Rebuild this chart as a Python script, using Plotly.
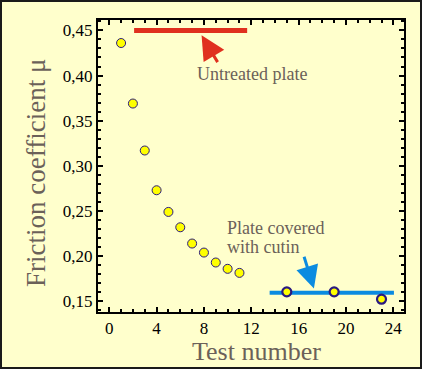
import plotly.graph_objects as go

# ---- data ----
tests_untreated = [1, 2, 3, 4, 5, 6, 7, 8, 9, 10, 11]
mu_untreated = [0.436, 0.369, 0.317, 0.273, 0.249, 0.232, 0.214, 0.204, 0.193, 0.186, 0.1815]
tests_cutin = [15, 19, 23]
mu_cutin = [0.1605, 0.1605, 0.1524]
red_line_x = [2.1, 11.65]
red_line_y = [0.45, 0.45]
blue_line_x = [13.55, 24.05]
blue_line_y = [0.1594, 0.1594]
x_tickvals = [0, 4, 8, 12, 16, 20, 24]
y_tickvals = [0.15, 0.20, 0.25, 0.30, 0.35, 0.40, 0.45]

BG = "#ffffcc"
TXT = "#6b6159"
FONT = "Liberation Serif"

W, H = 422, 369
ML, MR, MT, MB = 98, 18, 20, 57
PW, PH = W - ML - MR, H - MT - MB

fig = go.Figure()
fig.add_trace(go.Scatter(x=red_line_x, y=red_line_y, mode="lines",
                         line=dict(color="#e0301e", width=5), hoverinfo="skip"))
fig.add_trace(go.Scatter(x=blue_line_x, y=blue_line_y, mode="lines",
                         line=dict(color="#0b8be0", width=4), hoverinfo="skip"))
fig.add_trace(go.Scatter(x=tests_untreated, y=mu_untreated, mode="markers",
                         marker=dict(size=9, color="#ffff00",
                                     line=dict(color="#2a1a80", width=1))))
fig.add_trace(go.Scatter(x=tests_cutin, y=mu_cutin, mode="markers",
                         marker=dict(size=9, color="#ffff00",
                                     line=dict(color="#2a1a80", width=2.2))))

axis_common = dict(
    showline=True, linecolor="black", linewidth=2, mirror="ticks",
    ticks="inside", ticklen=5, tickwidth=1.5, tickcolor="black",
    showgrid=False, zeroline=False,
    tickfont=dict(family=FONT, size=17, color="black"),
)
fig.update_xaxes(range=[-0.95, 24.9], tickvals=x_tickvals,
                 minor=dict(dtick=1, tick0=0, ticks="inside", ticklen=3,
                            tickwidth=1.5, tickcolor="black", showgrid=False),
                 **axis_common)
fig.update_yaxes(range=[0.1382, 0.4615], tickvals=y_tickvals, tickformat=".2f",
                 minor=dict(dtick=0.01, tick0=0, ticks="inside", ticklen=3,
                            tickwidth=1.5, tickcolor="black", showgrid=False),
                 **axis_common)

annotations = [
    dict(x=7.8, y=0.4445, ax=9.23, ay=0.4132, xref="x", yref="y", axref="x", ayref="y",
         text="", showarrow=True, arrowhead=2, arrowsize=1.6, arrowwidth=3,
         arrowcolor="#e0301e", standoff=0),
    dict(x=17.29, y=0.1643, ax=16.42, ay=0.2011, xref="x", yref="y", axref="x", ayref="y",
         text="", showarrow=True, arrowhead=2, arrowsize=1.5, arrowwidth=3,
         arrowcolor="#0b8be0", standoff=0),
    dict(x=12.1, y=0.4013, xref="x", yref="y", text="Untreated plate", showarrow=False,
         font=dict(family=FONT, size=18, color=TXT), xanchor="center", yanchor="middle"),
    dict(x=9.82, y=0.231, xref="x", yref="y", text="Plate covered", showarrow=False,
         font=dict(family=FONT, size=18, color=TXT), xanchor="left", yanchor="middle"),
    dict(x=9.82, y=0.2103, xref="x", yref="y", text="with cutin", showarrow=False,
         font=dict(family=FONT, size=18, color=TXT), xanchor="left", yanchor="middle"),
    dict(x=(256.5 - ML) / PW, y=(H - MB - 351) / PH, xref="paper", yref="paper",
         text="Test number", showarrow=False,
         font=dict(family=FONT, size=26, color=TXT), xanchor="center", yanchor="middle"),
    dict(x=(36 - ML) / PW, y=(H - MB - 173) / PH, xref="paper", yref="paper",
         text="Friction coefficient μ", showarrow=False, textangle=-90,
         font=dict(family=FONT, size=27, color=TXT), xanchor="center", yanchor="middle"),
]

shapes = [dict(type="rect", xref="paper", yref="paper",
               x0=(1 - ML) / PW, x1=(W - 1 - ML) / PW,
               y0=(H - MB - (H - 1)) / PH, y1=(H - MB - 1) / PH,
               line=dict(color="#1a1a1a", width=2), fillcolor="rgba(0,0,0,0)", layer="above")]

fig.update_layout(
    width=W, height=H, margin=dict(l=ML, r=MR, t=MT, b=MB, pad=0),
    paper_bgcolor=BG, plot_bgcolor=BG, showlegend=False,
    separators=", ", annotations=annotations, shapes=shapes,
    font=dict(family=FONT),
)
fig.write_html("out.html", config={"displayModeBar": False},
               post_script="document.body.style.margin='0';document.body.style.overflow='hidden';")
